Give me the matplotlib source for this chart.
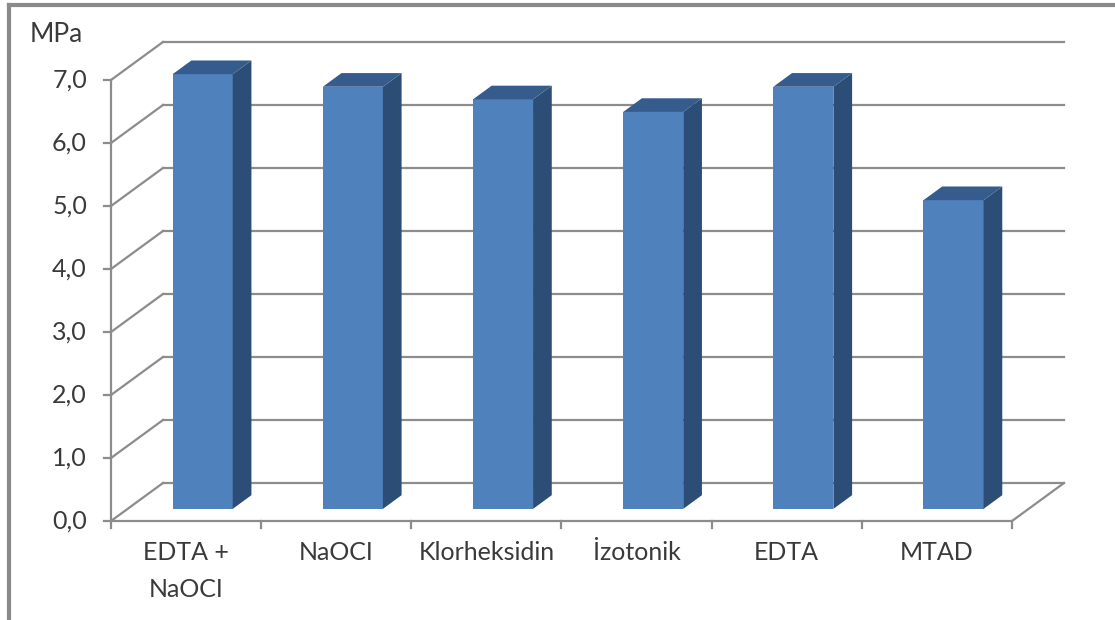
import matplotlib.pyplot as plt
from matplotlib.patches import Polygon

# data
categories = ['EDTA +\nNaOCI', 'NaOCI', 'Klorheksidin', 'İzotonik', 'EDTA', 'MTAD']
values = [6.9, 6.7, 6.5, 6.3, 6.7, 4.9]
yticks = [0, 1, 2, 3, 4, 5, 6, 7]
ytick_labels = ['0,0', '1,0', '2,0', '3,0', '4,0', '5,0', '6,0', '7,0']

plt.rcParams['font.family'] = ['Lato', 'DejaVu Sans']

fig = plt.figure(figsize=(11.15, 6.2), dpi=100)
ax = fig.add_axes([0, 0, 1, 1])
# data units: x = category, y = MPa
ax.set_xlim(-0.739, 6.686)
ax.set_ylim(-1.571, 8.27)
ax.axis('off')

# depth of the 3d box (in data units)
DX, DY = 0.346, 0.603
n = len(categories)
grid_c = '#8c8c8c'
txt_c = '#3a3a3a'

# walls / gridlines
for v in yticks:
    ax.plot([0, DX], [v, v + DY], color=grid_c, lw=1.6, zorder=1)
    ax.plot([DX, n + DX], [v + DY, v + DY], color=grid_c, lw=1.6, zorder=1)
ax.plot([n, n + DX], [0, DY], color=grid_c, lw=1.6, zorder=1)
ax.plot([0, 0], [0, yticks[-1]], color=grid_c, lw=1.6, zorder=1)
ax.plot([0, n], [0, 0], color=grid_c, lw=1.6, zorder=1)

# tick marks
for v, lab in zip(yticks, ytick_labels):
    ax.plot([-0.047, 0], [v, v], color=grid_c, lw=1.6)
    ax.text(-0.16, v, lab, ha='right', va='center', fontsize=18, color=txt_c)
for i in range(n + 1):
    ax.plot([i, i], [0, -0.11], color=grid_c, lw=1.6)

# bars
w = 0.4
d0, d1 = 0.32, 0.68
for i, (cat, val) in enumerate(zip(categories, values)):
    cx = i + 0.5 + d0 * DX
    by = d0 * DY
    x0, x1 = cx - w / 2, cx + w / 2
    ddx, ddy = (d1 - d0) * DX, (d1 - d0) * DY
    front = Polygon([(x0, by), (x1, by), (x1, by + val), (x0, by + val)],
                    closed=True, fc='#4f81bd', ec='none', zorder=3)
    side = Polygon([(x1, by), (x1 + ddx, by + ddy), (x1 + ddx, by + val + ddy), (x1, by + val)],
                   closed=True, fc='#2c4d75', ec='none', zorder=3)
    top = Polygon([(x0, by + val), (x1, by + val), (x1 + ddx, by + val + ddy), (x0 + ddx, by + val + ddy)],
                  closed=True, fc='#355c8c', ec='none', zorder=3)
    for p in (front, side, top):
        ax.add_patch(p)
    ax.text(i + 0.5, -0.32, cat, ha='center', va='top', fontsize=18,
            color=txt_c, linespacing=1.75)

ax.text(-0.54, 7.72, 'MPa', ha='left', va='center', fontsize=19, color=txt_c)

# outer frame (top and left edges visible)
ax.plot([-0.679, 6.686], [8.19, 8.19], color='#8a8a8a', lw=3, clip_on=False)
ax.plot([-0.679, -0.679], [-1.571, 8.19], color='#8a8a8a', lw=3, clip_on=False)

fig.savefig('out.png', dpi=100)
